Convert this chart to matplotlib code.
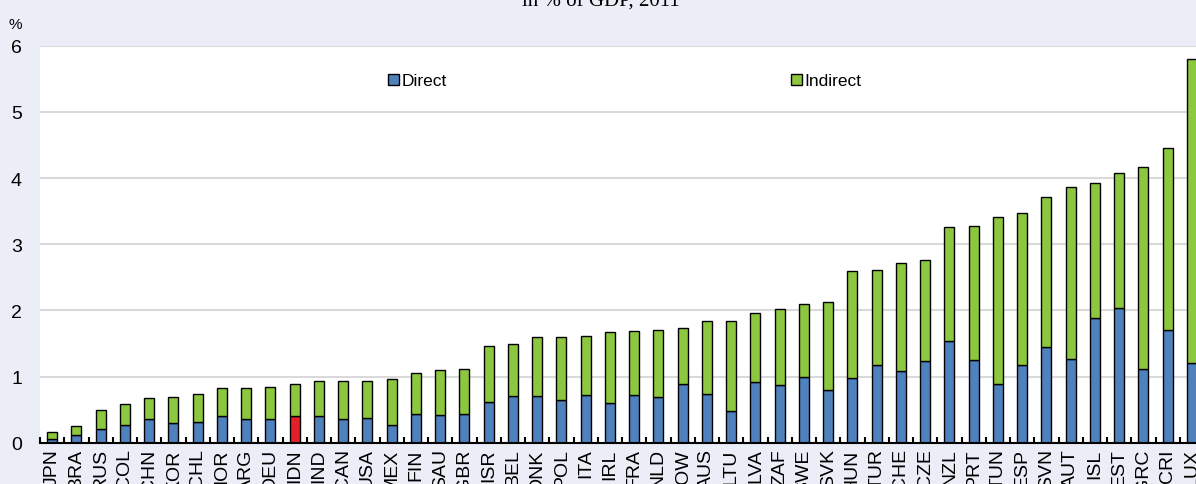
import matplotlib
matplotlib.use('Agg')
import matplotlib.pyplot as plt
import numpy as np

# pays, parts directe et totale (en % du PIB)
countries = ['JPN', 'BRA', 'RUS', 'COL', 'CHN', 'KOR', 'CHL', 'NOR', 'ARG', 'DEU',
             'IDN', 'IND', 'CAN', 'USA', 'MEX', 'FIN', 'SAU', 'GBR', 'ISR', 'BEL',
             'DNK', 'POL', 'ITA', 'IRL', 'FRA', 'NLD', 'ROW', 'AUS', 'LTU', 'LVA',
             'ZAF', 'SWE', 'SVK', 'HUN', 'TUR', 'CHE', 'CZE', 'NZL', 'PRT', 'TUN',
             'ESP', 'SVN', 'AUT', 'ISL', 'EST', 'GRC', 'CRI', 'LUX']
direct = [0.05, 0.11, 0.21, 0.27, 0.36, 0.30, 0.31, 0.41, 0.36, 0.36,
          0.40, 0.41, 0.36, 0.38, 0.26, 0.43, 0.42, 0.43, 0.62, 0.70,
          0.70, 0.65, 0.72, 0.60, 0.72, 0.69, 0.88, 0.74, 0.48, 0.91,
          0.87, 1.00, 0.80, 0.98, 1.18, 1.09, 1.24, 1.54, 1.25, 0.88,
          1.18, 1.45, 1.26, 1.89, 2.03, 1.12, 1.70, 1.20]
total = [0.16, 0.25, 0.50, 0.59, 0.67, 0.69, 0.73, 0.82, 0.82, 0.84,
         0.89, 0.93, 0.94, 0.94, 0.96, 1.05, 1.10, 1.11, 1.46, 1.49,
         1.59, 1.60, 1.62, 1.67, 1.69, 1.70, 1.74, 1.84, 1.84, 1.96,
         2.02, 2.09, 2.12, 2.59, 2.61, 2.72, 2.76, 3.26, 3.28, 3.41,
         3.47, 3.71, 3.87, 3.93, 4.07, 4.17, 4.45, 5.80]
highlight = 'IDN'

indirect = np.array(total) - np.array(direct)
x = np.arange(len(countries))

blue = '#4F81BD'
green = '#8DC63F'
red = '#E2202A'
bg = '#EBEEF6'

plt.rcParams['font.family'] = ['Liberation Sans', 'DejaVu Sans']

fig = plt.figure(figsize=(11.96, 4.85), dpi=100, facecolor=bg)
ax = fig.add_axes([40 / 1196, 41.3 / 485, 1164 / 1196, 397 / 485])
ax.set_facecolor('white')

dcolors = [red if c == highlight else blue for c in countries]
ax.bar(x, direct, width=0.42, color=dcolors, edgecolor='black', linewidth=1.0,
       label='Direct', zorder=3)
ax.bar(x, indirect, bottom=direct, width=0.42, color=green, edgecolor='black',
       linewidth=1.0, label='Indirect', zorder=3)

ax.set_xlim(-0.5, len(countries) - 0.5)
ax.set_ylim(0, 6)
ax.set_yticks(range(0, 7))
ax.yaxis.grid(True, color='#D9D9D9', linewidth=1.5, zorder=0)
ax.tick_params(axis='y', length=0, labelsize=14, pad=13)

ax.set_xticks(x)
ax.set_xticklabels(countries, rotation=90, fontsize=14)
ax.tick_params(axis='x', which='major', length=0, pad=4)
ax.set_xticks(np.arange(-0.5, len(countries), 1), minor=True)
ax.tick_params(axis='x', which='minor', direction='in', length=4, width=1.5,
               color='black')

for s in ['top', 'right', 'left']:
    ax.spines[s].set_visible(False)
ax.spines['bottom'].set_linewidth(1.5)
ax.spines['bottom'].set_zorder(4)

leg = fig.legend(loc='center left', bbox_to_anchor=(388 / 1196, 1 - 82 / 485),
                 ncol=2, frameon=False, fontsize=12.5, handlelength=0.65,
                 handleheight=0.65, handletextpad=0.15, columnspacing=19.8,
                 borderpad=0, borderaxespad=0)

fig.text(15 / 1196, 1 - 25 / 485, '%', fontsize=11, ha='center', va='center')
fig.text(601 / 1196, 1 - 7 / 485, 'in % of GDP, 2011', fontsize=15,
         family='Liberation Serif', ha='center', va='baseline')

plt.savefig('out.png', dpi=100, facecolor=bg)
